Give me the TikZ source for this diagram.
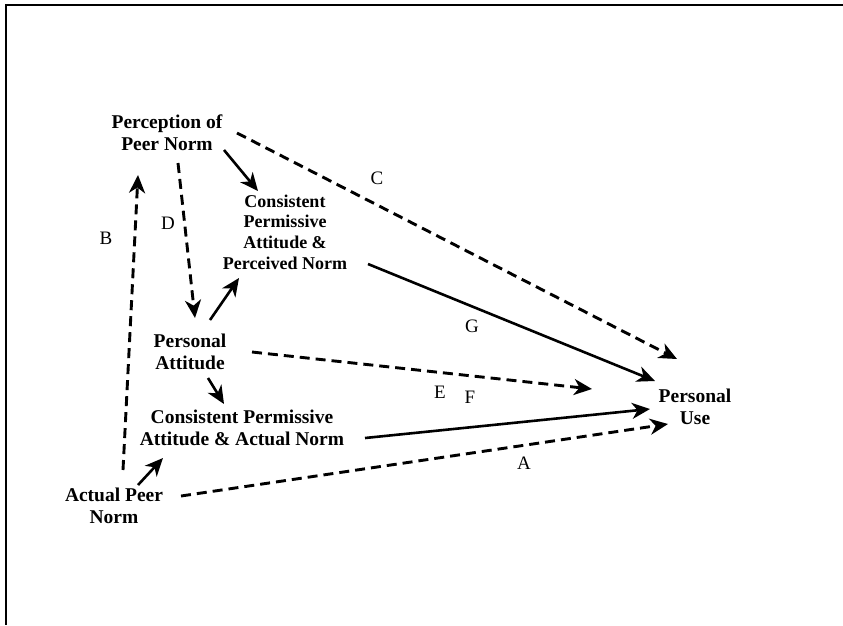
\documentclass[tikz,border=0pt]{standalone}
\usepackage{fontspec}
\setmainfont{Liberation Serif}
\usetikzlibrary{arrows.meta}
\tikzset{
  concept/.style={align=center, inner sep=0pt, font=\bfseries\fontsize{19.5}{22}\selectfont},
  smallconcept/.style={align=center, inner sep=0pt, font=\bfseries\fontsize{18}{20.7}\selectfont},
  pathlabel/.style={inner sep=0pt, font=\fontsize{19}{20}\selectfont},
  solidarrow/.style={line width=2.6pt, -{Stealth[length=18pt, width=16pt, inset=5.5pt]}},
  dasharrow/.style={line width=2.9pt, dash pattern=on 10pt off 6pt, -{Stealth[length=18pt, width=16pt, inset=5.5pt]}},
  frameline/.style={line width=2.4pt}
}
\begin{document}
\begin{tikzpicture}[x=1pt, y=-1pt]
\useasboundingbox (0,0) rectangle (843,625);
\draw[frameline] (843,5) -- (6,5) -- (6,625);

\node[concept] (ppn) at (167,132.5) {Perception of\\Peer Norm};
\node[smallconcept] (cpapn) at (285,232) {Consistent\\Permissive\\Attitude \&\\Perceived Norm};
\node[concept] (pa) at (190,351.5) {Personal\\Attitude};
\node[concept] (cpaan) at (242,427.5) {Consistent Permissive\\Attitude \& Actual Norm};
\node[concept] (apn) at (114,506) {Actual Peer\\Norm};
\node[concept] (pu) at (695,407) {Personal\\Use};
\coordinate (eend) at (592,389);

\node[pathlabel] (la) at (524,463) {A};
\node[pathlabel] (lb) at (106,238) {B};
\node[pathlabel] (lc) at (377,178) {C};
\node[pathlabel] (ld) at (168,223) {D};
\node[pathlabel] (le) at (440,392) {E};
\node[pathlabel] (lf) at (470,397) {F};
\node[pathlabel] (lg) at (472,326) {G};

% solid arrows
\draw[solidarrow] ([shift={(57,17.5)}]ppn.center) -- ([shift={(-27,-41)}]cpapn.center);
\draw[solidarrow] ([shift={(20,-31.5)}]pa.center) -- ([shift={(-46,46)}]cpapn.center);
\draw[solidarrow] ([shift={(18,26.5)}]pa.center) -- ([shift={(-18,-23.5)}]cpaan.center);
\draw[solidarrow] ([shift={(24,-21)}]apn.center) -- ([shift={(-79,30.5)}]cpaan.center);
\draw[solidarrow] ([shift={(83,32)}]cpapn.center) -- ([shift={(-40,-26)}]pu.center);
\draw[solidarrow] ([shift={(123,10.5)}]cpaan.center) -- ([shift={(-45,2)}]pu.center);

% dashed arrows
\draw[dasharrow] ([shift={(70,0.5)}]ppn.center) -- ([shift={(-18,-48)}]pu.center);
\draw[dasharrow] ([shift={(11,30.5)}]ppn.center) -- ([shift={(5,-33.5)}]pa.center);
\draw[dasharrow] ([shift={(9,-36)}]apn.center) -- ([shift={(-29,42.5)}]ppn.center);
\draw[dasharrow] ([shift={(62,0.5)}]pa.center) -- (eend);
\draw[dasharrow] ([shift={(67,-10)}]apn.center) -- ([shift={(-27,17)}]pu.center);
\end{tikzpicture}
\end{document}
